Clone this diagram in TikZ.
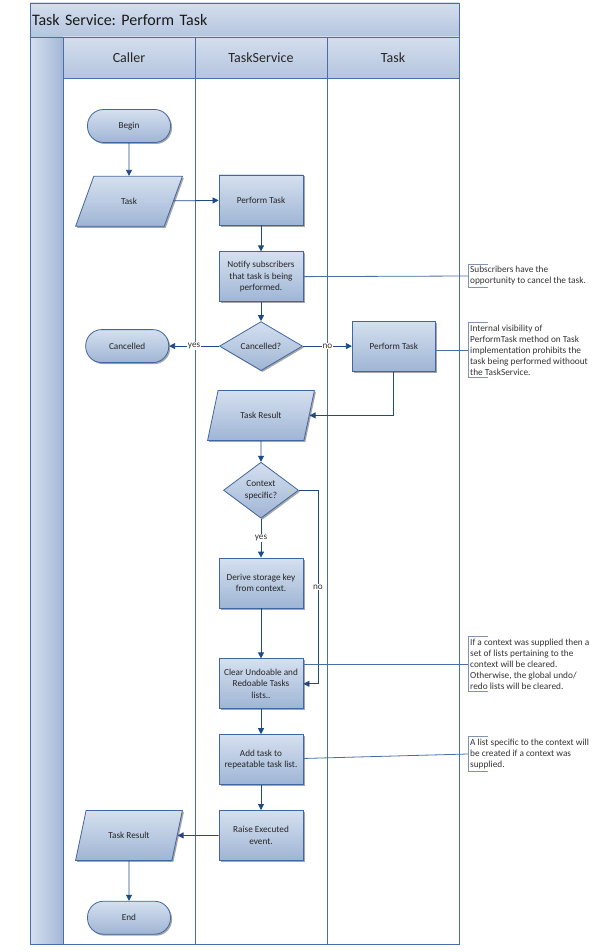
\documentclass[tikz,border=0pt]{standalone}
\usepackage{fontspec}
\setmainfont{Carlito}
\frenchspacing
\usetikzlibrary{positioning,shapes.geometric,arrows.meta,shadows}

\definecolor{laneline}{HTML}{4A6DA6}
\definecolor{shapeline}{HTML}{41679F}
\definecolor{flowline}{HTML}{1F4A86}
\definecolor{fillhi}{HTML}{D5E0EF}
\definecolor{filllo}{HTML}{9FB5D5}
\definecolor{headhi}{HTML}{D4DEED}
\definecolor{headlo}{HTML}{B4C5DF}
\definecolor{striphi}{HTML}{D6E0EE}
\definecolor{striplo}{HTML}{A3B7D6}
\definecolor{notebar}{HTML}{7F93B3}

\tikzset{
	base/.style={draw=shapeline, line width=0.8pt, top color=fillhi, bottom color=filllo, text=black!85, font=\fontsize{9.2}{11.3}\selectfont, align=center, drop shadow={shadow xshift=1.5pt, shadow yshift=-1.5pt, opacity=0.35, fill=black}},
	terminal/.style={base, rounded corners=16pt, minimum width=83pt, minimum height=33pt},
	process/.style={base, minimum width=84pt, minimum height=50pt, inner sep=2pt},
	decision/.style={base, diamond, inner sep=0pt},
	data/.style={base, trapezium, trapezium left angle=66, trapezium right angle=114, trapezium stretches=true, minimum width=107pt, minimum height=50pt},
	flow/.style={draw=flowline, line width=0.8pt, -{Triangle[length=6pt,width=6pt]}},
	link/.style={draw=laneline, line width=0.8pt},
	choice/.style={fill=white, inner sep=1pt, font=\fontsize{9.2}{11}\selectfont, text=black!80},
	note/.style={anchor=west, align=left, inner sep=2pt, font=\fontsize{9.3}{11}\selectfont, text=black!80},
	bracket/.style={draw=notebar, line width=0.8pt},
	lanehead/.style={draw=laneline, line width=0.8pt, top color=headhi, bottom color=headlo, minimum width=132pt, minimum height=41pt, outer sep=0pt, font=\fontsize{14}{16}\selectfont, text=black!85},
}

\begin{document}
\begin{tikzpicture}[x=1pt, y=-1pt]
	\useasboundingbox (0,0) rectangle (599,952);

	% pool and lanes
	\draw[laneline, line width=0.8pt] (30,3) rectangle (459,944);
	\shade[left color=striphi, right color=striplo] (30,37) rectangle (63,944);
	\draw[laneline, line width=0.8pt] (30,37) rectangle (63,944);
	\draw[laneline, line width=0.8pt] (63,78) rectangle (195,944);
	\draw[laneline, line width=0.8pt] (195,78) rectangle (327,944);
	\draw[laneline, line width=0.8pt] (327,78) rectangle (459,944);
	\node[draw=laneline, line width=0.8pt, top color=headhi, bottom color=headlo, anchor=north west, minimum height=34pt, text width=425pt, inner xsep=2pt, align=left, outer sep=0pt, font=\fontsize{16}{18}\selectfont, text=black!90] (title) at (30,3) {Task Service: Perform Task};
	\node[lanehead] (hcaller) at (129,57.5) {Caller};
	\node[lanehead, right=0pt of hcaller] (hservice) {TaskService};
	\node[lanehead, right=0pt of hservice] (htask) {Task};

	% flow nodes
	\node[terminal] (begin) at (129,126) {Begin};
	\node[data, below=33pt of begin] (task) {Task};
	\node[process] (ptask) at (261,200) {Perform Task};
	\node[process, below=26pt of ptask] (notify) {Notify subscribers\\that task is being\\performed.};
	\node[decision, minimum width=83pt, minimum height=49pt, below=19pt of notify] (cancel) {Cancelled?};
	\node[terminal, left=50pt of cancel] (cancelled) {Cancelled};
	\node[process, minimum width=83pt, right=49pt of cancel] (perf) {Perform Task};
	\node[data, below=19pt of cancel] (tres) {Task Result};
	\node[decision, minimum width=75pt, minimum height=56pt, below=21pt of tres] (ctx) {Context\\specific?};
	\node[process, below=39pt of ctx] (derive) {Derive storage key\\from context.};
	\node[process, below=50pt of derive] (clear) {Clear Undoable and\\Redoable Tasks\\lists..};
	\node[process, below=25pt of clear] (add) {Add task to\\repeatable task list.};
	\node[process, below=25pt of add] (raise) {Raise Executed\\event.};
	\node[data] (cres) at (task |- raise) {Task Result};
	\node[terminal, below=40pt of cres] (end) {End};

	% notes
	\node[note] (note1) at (468,276) {Subscribers have the\\opportunity to cancel the task.};
	\node[note] (note2) at (468,350) {Internal visibility of\\PerformTask method on Task\\implementation prohibits the\\task being performed withoout\\the TaskService.};
	\node[note] (note3) at (468,664) {If a context was supplied then a\\set of lists pertaining to the\\context will be cleared.\\Otherwise, the global undo/\\redo lists will be cleared.};
	\node[note] (note4) at (468,754) {A list specific to the context will\\be created if a context was\\supplied.};
	\draw[bracket] ([xshift=20pt]note1.north west) -- (note1.north west) -- (note1.south west) -- ([xshift=20pt]note1.south west);
	\draw[bracket] ([xshift=20pt]note2.north west) -- (note2.north west) -- (note2.south west) -- ([xshift=20pt]note2.south west);
	\draw[bracket] ([xshift=20pt]note3.north west) -- (note3.north west) -- (note3.south west) -- ([xshift=20pt]note3.south west);
	\draw[bracket] ([xshift=20pt]note4.north west) -- (note4.north west) -- (note4.south west) -- ([xshift=20pt]note4.south west);

	% connectors
	\draw[flow] (begin) -- (task);
	\draw[flow] (task) -- (ptask);
	\draw[flow] (ptask) -- (notify);
	\draw[flow] (notify) -- (cancel);
	\draw[flow] (cancel) -- node[choice] {yes} (cancelled);
	\draw[flow] (cancel) -- node[choice] {no} (perf);
	\draw[flow] (perf) |- (tres);
	\draw[flow] (tres) -- (ctx);
	\draw[flow] (ctx) -- node[choice] {yes} (derive);
	\draw[flow] (ctx.east) -- ++(19,0) |- node[choice, pos=0.25] {no} (clear.east);
	\draw[flow] (derive) -- (clear);
	\draw[flow] (clear) -- (add);
	\draw[flow] (add) -- (raise);
	\draw[flow] (raise) -- (cres);
	\draw[flow] (cres) -- (end);

	\draw[link] (notify) -- (note1.west);
	\draw[link] (perf.east |- note2.west) -- (note2.west);
	\draw[link] (clear.east |- note3.west) -- (note3.west);
	\draw[link] (add) -- (note4.west);
\end{tikzpicture}
\end{document}
